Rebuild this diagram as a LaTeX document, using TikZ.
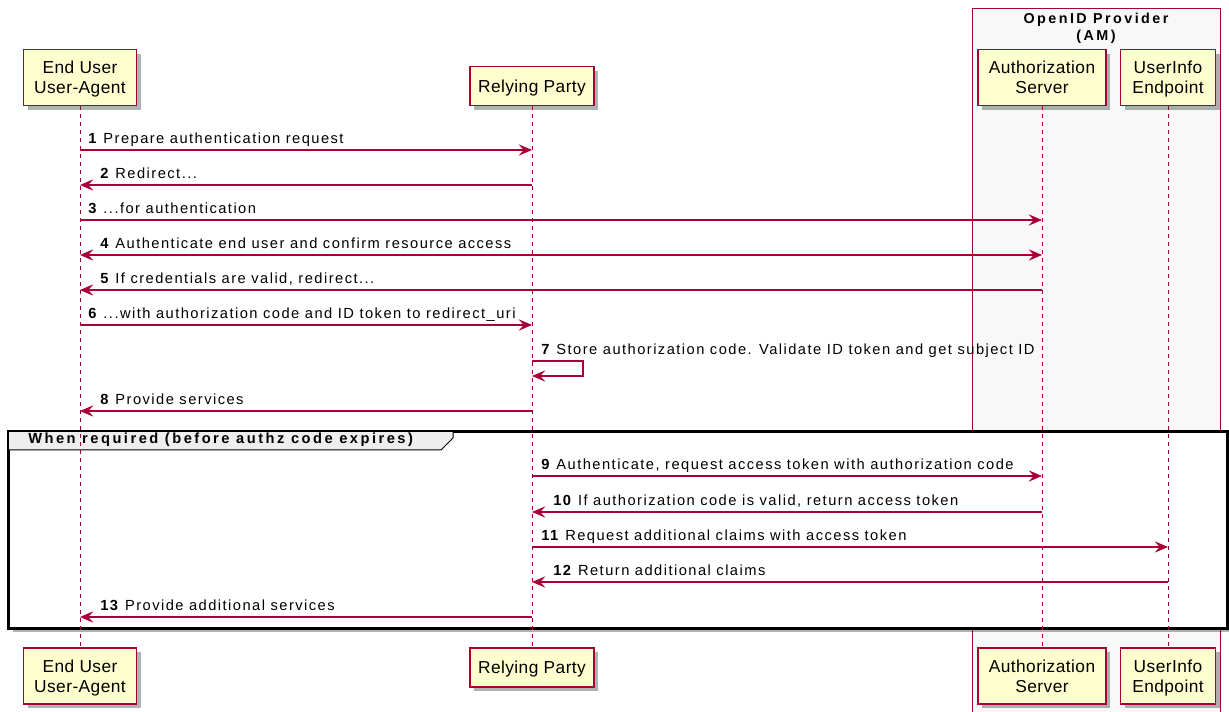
\documentclass[tikz,border=0pt]{standalone}
\usepackage{fontspec}
\setmainfont{Liberation Sans}
\newfontfamily\lblfont[LetterSpace=10]{Liberation Sans}
\newfontfamily\grpfont[LetterSpace=17]{Liberation Sans}
\newfontfamily\partfont[LetterSpace=2.5]{Liberation Sans}
\newcommand\partstrut{\rule[-2.9pt]{0pt}{15pt}}
\usetikzlibrary{arrows.meta,shadows,calc}
\definecolor{umlred}{HTML}{A80036}
\definecolor{umlfill}{HTML}{FEFECE}
\definecolor{boxfill}{HTML}{F8F8F8}
\definecolor{tabfill}{HTML}{EEEEEE}
\begin{document}
\begin{tikzpicture}[x=0.75pt,y=-0.75pt,
  part/.style={draw=umlred, line width=1.4pt, fill=umlfill, minimum height=42pt, inner sep=0pt, align=center,
    font=\partfont\fontsize{13}{15}\selectfont,
    drop shadow={shadow xshift=3pt, shadow yshift=-3pt, opacity=0.3, fill=black}},
  part1/.style={part, minimum height=29.25pt},
  lifeline/.style={draw=umlred, line width=0.75pt, dash pattern=on 3pt off 3pt},
  msg/.style={draw=umlred, line width=0.8pt, -{Stealth[length=10pt,width=8.5pt,inset=3.8pt]}},
  bimsg/.style={draw=umlred, line width=0.8pt, {Stealth[length=10pt,width=8.5pt,inset=3.8pt]}-{Stealth[length=10pt,width=8.5pt,inset=3.8pt]}},
  lbl/.style={anchor=base west, inner sep=0pt, font=\lblfont\fontsize{11}{12}\selectfont},
]
\useasboundingbox (0,0) rectangle (1229,712);
\fill[white] (0,0) rectangle (1229,712);

% OpenID Provider box
\node[draw=umlred, line width=0.75pt, fill=boxfill, minimum width=186pt, minimum height=529.5pt, inner sep=0pt, anchor=north west] (opbox) at (972,8) {};
\node[align=center, font=\grpfont\fontsize{10.75}{12.75}\selectfont\bfseries] (optitle) at (1096,28) {OpenID Provider\\(AM)};

% Group frame
\node[draw=black, line width=1.5pt, fill=white, minimum width=913.5pt, minimum height=147pt, inner sep=0pt, anchor=north west,
  drop shadow={shadow xshift=3pt, shadow yshift=-3pt, opacity=0.3, fill=black}] (grp) at (8,431) {};
\draw[fill=tabfill, line width=0.75pt] (8,431) -- (453,431) -- (453,438) -- (441,450) -- (8,450) -- cycle;
\draw[line width=1.5pt] (grp.north west) rectangle (grp.south east);
\node[anchor=west, inner sep=0pt, font=\grpfont\fontsize{11}{12}\selectfont\bfseries] (grptitle) at (28,440) {When required (before authz code expires)};

% Participants
\node[part, minimum width=84.75pt, anchor=south] (eu) at (80,106.5) {End User\partstrut\\User-Agent\partstrut};
\node[part1, minimum width=93pt, anchor=south] (rp) at (532,106.5) {Relying Party\partstrut};
\node[part, minimum width=96pt, anchor=south] (as) at (1042,106.5) {Authorization\partstrut\\Server\partstrut};
\node[part, minimum width=71.25pt, anchor=south] (ui) at (1168,106.5) {UserInfo\partstrut\\Endpoint\partstrut};
\node[part, minimum width=84.75pt, anchor=north] (eub) at (80,647) {End User\partstrut\\User-Agent\partstrut};
\node[part1, minimum width=93pt, anchor=north] (rpb) at (532,647) {Relying Party\partstrut};
\node[part, minimum width=96pt, anchor=north] (asb) at (1042,647) {Authorization\partstrut\\Server\partstrut};
\node[part, minimum width=71.25pt, anchor=north] (uib) at (1168,647) {UserInfo\partstrut\\Endpoint\partstrut};

% Lifelines
\draw[lifeline] (eu.south) -- (eub.north);
\draw[lifeline] (rp.south) -- (rpb.north);
\draw[lifeline] (as.south) -- (asb.north);
\draw[lifeline] (ui.south) -- (uib.north);

% Message rows
\coordinate (y1) at (0,150);
\coordinate (y2) at (0,185);
\coordinate (y3) at (0,220);
\coordinate (y4) at (0,255);
\coordinate (y5) at (0,290);
\coordinate (y6) at (0,325);
\coordinate (y7) at (0,361);
\coordinate (y7b) at (0,376);
\coordinate (y8) at (0,411);
\coordinate (y9) at (0,476);
\coordinate (y10) at (0,512);
\coordinate (y11) at (0,547);
\coordinate (y12) at (0,582);
\coordinate (y13) at (0,617);

\draw[msg] (eu |- y1) -- (rp |- y1);
\node[lbl] (l1) at (88,144) {\textbf{1} Prepare authentication request};
\draw[msg] (rp |- y2) -- (eu |- y2);
\node[lbl] (l2) at (100,179) {\textbf{2} Redirect...};
\draw[msg] (eu |- y3) -- (as |- y3);
\node[lbl] (l3) at (88,214) {\textbf{3} ...for authentication};
\draw[bimsg] (eu |- y4) -- (as |- y4);
\node[lbl] (l4) at (100,249) {\textbf{4} Authenticate end user and confirm resource access};
\draw[msg] (as |- y5) -- (eu |- y5);
\node[lbl] (l5) at (100,284) {\textbf{5} If credentials are valid, redirect...};
\draw[msg] (eu |- y6) -- (rp |- y6);
\node[lbl] (l6) at (88,319) {\textbf{6} ...with authorization code and ID token to redirect\_uri};
\draw[msg] (rp |- y7) -- ++(51,0) -- ++(0,15) -- (rp |- y7b);
\node[lbl] (l7) at (541,355) {\textbf{7} Store authorization code. Validate ID token and get subject ID};
\draw[msg] (rp |- y8) -- (eu |- y8);
\node[lbl] (l8) at (100,405) {\textbf{8} Provide services};
\draw[msg] (rp |- y9) -- (as |- y9);
\node[lbl] (l9) at (541,470) {\textbf{9} Authenticate, request access token with authorization code};
\draw[msg] (as |- y10) -- (rp |- y10);
\node[lbl] (l10) at (553,506) {\textbf{10} If authorization code is valid, return access token};
\draw[msg] (rp |- y11) -- (ui |- y11);
\node[lbl] (l11) at (541,541) {\textbf{11} Request additional claims with access token};
\draw[msg] (ui |- y12) -- (rp |- y12);
\node[lbl] (l12) at (553,576) {\textbf{12} Return additional claims};
\draw[msg] (rp |- y13) -- (eu |- y13);
\node[lbl] (l13) at (100,611) {\textbf{13} Provide additional services};
\end{tikzpicture}
\end{document}
